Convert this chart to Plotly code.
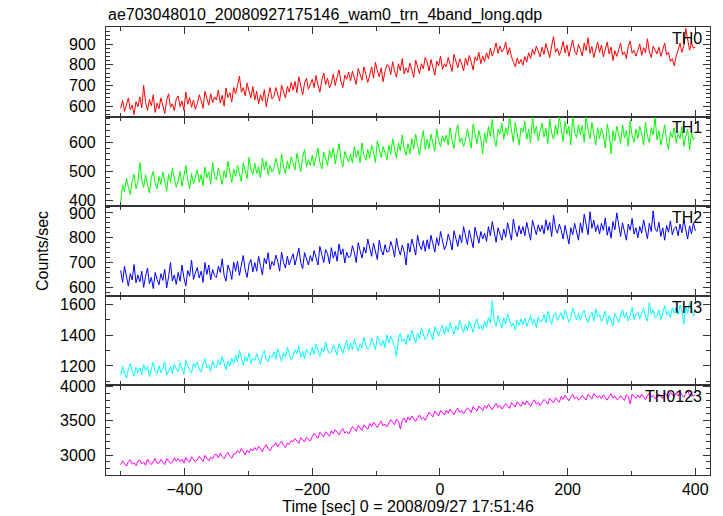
import plotly.graph_objects as go
from plotly.subplots import make_subplots

# Time grid: 3 s bins from -500 to 400 s
TIME_START = -500
TIME_BIN = 3

TH0 = [
    590, 628, 575, 612, 640, 583, 605, 560, 622, 598,
    645, 592, 700, 618, 580, 633, 602, 655, 570, 615,
    588, 640, 603, 565, 628, 660, 595, 612, 578, 635,
    650, 598, 625, 580, 668, 610, 642, 595, 630, 585,
    612, 655, 628, 590, 672, 640, 605, 660, 618, 645,
    630, 678, 615, 652, 600, 688, 642, 665, 620, 690,
    660, 700, 745, 668, 690, 650, 712, 672, 640, 695,
    630, 672, 612, 655, 625, 680, 598, 648, 690, 635,
    648, 690, 660, 625, 702, 672, 640, 695, 668, 715,
    678, 720, 665, 742, 690, 655, 712, 735, 682, 705,
    730, 690, 748, 702, 668, 725, 760, 705, 735, 688,
    712, 755, 700, 742, 775, 718, 690, 750, 730, 765,
    722, 768, 740, 705, 782, 752, 725, 790, 745, 715,
    748, 790, 735, 812, 770, 742, 785, 718, 768, 800,
    795, 752, 815, 768, 740, 805, 772, 830, 755, 785,
    762, 808, 775, 740, 822, 790, 758, 805, 780, 835,
    812, 770, 825, 788, 750, 818, 795, 842, 778, 805,
    790, 835, 802, 768, 850, 815, 785, 828, 808, 770,
    832, 798, 845, 812, 775, 838, 820, 860, 805, 842,
    815, 858, 828, 880, 842, 870, 905, 855, 890, 862,
    875, 910, 848, 882, 838, 815, 790, 832, 805, 825,
    798, 840, 812, 858, 830, 875, 848, 890, 862, 838,
    885, 850, 902, 868, 835, 892, 935, 860, 878, 845,
    870, 912, 858, 895, 840, 882, 920, 865, 848, 898,
    875, 842, 905, 868, 930, 855, 888, 835, 872, 910,
    860, 895, 838, 872, 910, 852, 885, 820, 868, 840,
    875, 905, 848, 862, 830, 888, 915, 855, 870, 842,
    868, 900, 845, 882, 858, 925, 862, 835, 890, 870,
    852, 885, 840, 872, 905, 848, 860, 815, 830, 795,
    842, 870, 905, 860, 890, 975, 918, 870, 905, 880,
    885,
]

TH1 = [
    395, 452, 430, 475, 448, 420, 468, 490, 440, 462,
    530, 470, 445, 488, 455, 425, 478, 500, 458, 440,
    482, 455, 498, 470, 432, 490, 462, 510, 475, 445,
    465, 500, 448, 485, 520, 470, 440, 492, 458, 478,
    505, 462, 488, 450, 515, 478, 498, 455, 530, 482,
    470, 512, 488, 455, 502, 478, 535, 490, 462, 508,
    482, 520, 495, 465, 530, 500, 475, 548, 505, 488,
    528, 492, 515, 478, 545, 505, 535, 488, 520, 498,
    510, 545, 520, 488, 558, 515, 492, 535, 508, 550,
    528, 505, 562, 530, 498, 548, 575, 515, 540, 520,
    555, 518, 545, 580, 530, 508, 565, 540, 520, 572,
    545, 580, 525, 560, 595, 540, 515, 568, 550, 532,
    560, 528, 585, 548, 572, 530, 598, 555, 538, 575,
    545, 590, 565, 530, 605, 572, 548, 585, 560, 540,
    590, 558, 612, 575, 545, 598, 570, 625, 580, 555,
    595, 560, 612, 578, 628, 590, 555, 605, 640, 575,
    610, 578, 628, 595, 570, 645, 605, 585, 622, 600,
    625, 590, 650, 608, 578, 632, 660, 600, 615, 585,
    605, 645, 618, 580, 662, 625, 595, 640, 612, 560,
    632, 598, 655, 620, 678, 610, 585, 645, 628, 665,
    610, 650, 625, 685, 640, 600, 668, 622, 590, 648,
    635, 672, 610, 645, 598, 688, 628, 655, 605, 640,
    665, 618, 648, 595, 680, 632, 610, 660, 625, 690,
    640, 602, 672, 628, 655, 590, 688, 635, 615, 660,
    625, 658, 600, 690, 642, 612, 668, 625, 590, 650,
    612, 648, 625, 580, 662, 632, 560, 640, 605, 655,
    628, 595, 660, 615, 640, 585, 675, 622, 600, 645,
    612, 655, 630, 590, 668, 620, 598, 650, 625, 685,
    608, 640, 590, 628, 660, 605, 575, 635, 615, 650,
    598, 630, 612, 655, 585, 620, 645, 575, 632, 610,
    615,
]

TH2 = [
    668, 620, 685, 640, 605, 655, 630, 692, 618, 650,
    622, 665, 600, 645, 678, 615, 640, 595, 660, 632,
    610, 655, 628, 672, 598, 642, 700, 625, 650, 612,
    660, 625, 690, 640, 605, 668, 645, 710, 632, 658,
    680, 638, 665, 620, 700, 652, 690, 630, 672, 648,
    640, 685, 660, 715, 648, 625, 690, 668, 632, 702,
    665, 705, 648, 690, 728, 670, 640, 695, 712, 662,
    700, 665, 725, 688, 650, 718, 695, 740, 672, 705,
    688, 730, 705, 665, 742, 700, 678, 725, 690, 715,
    735, 690, 722, 758, 700, 675, 740, 712, 690, 728,
    705, 748, 720, 690, 765, 728, 700, 752, 735, 695,
    760, 718, 745, 705, 775, 732, 755, 698, 742, 720,
    725, 768, 740, 700, 780, 748, 718, 762, 738, 795,
    762, 725, 778, 745, 712, 790, 750, 730, 772, 742,
    745, 785, 760, 722, 798, 755, 730, 770, 745, 690,
    778, 742, 795, 765, 730, 810, 770, 752, 788, 745,
    792, 755, 810, 775, 742, 800, 768, 825, 780, 752,
    770, 815, 788, 750, 828, 795, 765, 812, 780, 845,
    800, 772, 830, 795, 760, 842, 805, 778, 825, 795,
    818, 785, 845, 808, 865, 815, 782, 840, 812, 790,
    835, 802, 860, 822, 790, 875, 830, 805, 848, 815,
    845, 808, 862, 825, 790, 870, 835, 812, 852, 825,
    850, 815, 872, 830, 862, 805, 890, 838, 818, 855,
    830, 795, 850, 805, 775, 840, 812, 858, 822, 790,
    860, 820, 895, 845, 812, 905, 838, 870, 825, 852,
    815, 858, 830, 880, 810, 845, 798, 865, 832, 900,
    842, 805, 860, 822, 790, 855, 830, 878, 815, 840,
    800, 845, 818, 872, 830, 795, 858, 825, 908, 835,
    825, 862, 805, 840, 790, 850, 822, 868, 812, 838,
    845, 808, 855, 820, 872, 830, 795, 848, 815, 860,
    828,
]

TH3 = [
    1140, 1198, 1152, 1120, 1176, 1215, 1168, 1135, 1190, 1158,
    1185, 1142, 1210, 1168, 1195, 1130, 1178, 1225, 1160, 1148,
    1202, 1155, 1180, 1228, 1140, 1172, 1195, 1150, 1212, 1182,
    1165, 1220, 1190, 1148, 1235, 1200, 1172, 1155, 1215, 1192,
    1225, 1180, 1160, 1210, 1248, 1188, 1205, 1165, 1230, 1195,
    1190, 1240, 1205, 1262, 1220, 1175, 1232, 1198, 1250, 1215,
    1270, 1225, 1300, 1245, 1205, 1262, 1230, 1285, 1215, 1250,
    1235, 1280, 1245, 1210, 1275, 1300, 1240, 1225, 1268, 1255,
    1290, 1245, 1310, 1265, 1230, 1285, 1258, 1320, 1272, 1240,
    1265, 1305, 1280, 1330, 1255, 1295, 1245, 1310, 1285, 1270,
    1320, 1275, 1340, 1298, 1262, 1315, 1290, 1355, 1305, 1280,
    1290, 1335, 1305, 1270, 1345, 1318, 1282, 1330, 1365, 1300,
    1350, 1305, 1372, 1330, 1295, 1345, 1318, 1385, 1335, 1310,
    1325, 1378, 1340, 1305, 1392, 1355, 1330, 1365, 1318, 1402,
    1348, 1395, 1360, 1325, 1262, 1380, 1410, 1355, 1375, 1338,
    1405, 1362, 1428, 1390, 1350, 1412, 1375, 1445, 1398, 1368,
    1388, 1440, 1405, 1370, 1455, 1420, 1392, 1435, 1465, 1402,
    1455, 1418, 1480, 1440, 1405, 1462, 1430, 1495, 1448, 1415,
    1470, 1428, 1492, 1450, 1418, 1478, 1505, 1440, 1462, 1432,
    1490, 1448, 1515, 1475, 1622, 1498, 1455, 1525, 1480, 1445,
    1512, 1472, 1538, 1490, 1455, 1478, 1432, 1495, 1462, 1505,
    1468, 1508, 1455, 1492, 1525, 1470, 1500, 1448, 1518, 1485,
    1490, 1532, 1478, 1555, 1510, 1470, 1525, 1545, 1495, 1518,
    1545, 1500, 1565, 1528, 1482, 1510, 1575, 1535, 1498, 1540,
    1495, 1538, 1560, 1505, 1480, 1528, 1550, 1490, 1570, 1520,
    1532, 1488, 1515, 1555, 1470, 1525, 1498, 1460, 1540, 1505,
    1480, 1530, 1565, 1510, 1545, 1490, 1525, 1580, 1500, 1535,
    1550, 1505, 1540, 1575, 1515, 1490, 1612, 1535, 1560, 1510,
    1520, 1565, 1500, 1548, 1590, 1530, 1555, 1512, 1578, 1540,
    1575, 1530, 1595, 1555, 1472, 1585, 1540, 1610, 1565, 1525,
    1560,
]

TH0123 = [
    2860, 2918, 2875, 2838, 2905, 2930, 2868, 2890, 2845, 2912,
    2925, 2870, 2898, 2850, 2940, 2885, 2862, 2915, 2950, 2880,
    2885, 2935, 2902, 2860, 2948, 2920, 2878, 2895, 2960, 2910,
    2950, 2905, 2938, 2882, 2965, 2920, 2895, 2975, 2930, 2900,
    2928, 2980, 2945, 2905, 2995, 2960, 2918, 2970, 2940, 3005,
    3010, 2960, 3025, 2975, 2945, 3002, 3040, 2980, 2955, 3018,
    3020, 3065, 3030, 3095, 3045, 3005, 3070, 3035, 3090, 3060,
    3110, 3070, 3130, 3085, 3050, 3115, 3150, 3090, 3060, 3125,
    3135, 3180, 3120, 3165, 3200, 3140, 3110, 3175, 3155, 3210,
    3195, 3240, 3210, 3170, 3255, 3225, 3190, 3260, 3230, 3205,
    3270, 3315, 3280, 3245, 3330, 3295, 3265, 3340, 3300, 3275,
    3355, 3310, 3370, 3330, 3295, 3350, 3385, 3320, 3345, 3305,
    3370, 3415, 3385, 3345, 3430, 3395, 3360, 3440, 3400, 3375,
    3460, 3415, 3480, 3435, 3400, 3455, 3495, 3425, 3450, 3410,
    3470, 3515, 3480, 3440, 3525, 3495, 3380, 3505, 3540, 3475,
    3555, 3510, 3570, 3525, 3490, 3545, 3585, 3520, 3550, 3505,
    3580, 3625, 3590, 3555, 3640, 3605, 3570, 3650, 3610, 3585,
    3655, 3610, 3670, 3625, 3590, 3645, 3685, 3620, 3650, 3600,
    3645, 3690, 3660, 3620, 3705, 3675, 3640, 3715, 3680, 3650,
    3720, 3680, 3740, 3695, 3660, 3715, 3755, 3690, 3725, 3670,
    3705, 3750, 3720, 3680, 3765, 3735, 3700, 3775, 3740, 3710,
    3775, 3730, 3790, 3745, 3710, 3765, 3805, 3740, 3770, 3720,
    3765, 3810, 3780, 3740, 3825, 3795, 3760, 3835, 3800, 3770,
    3855, 3810, 3870, 3825, 3790, 3845, 3885, 3820, 3850, 3800,
    3825, 3870, 3840, 3800, 3885, 3855, 3820, 3895, 3860, 3830,
    3865, 3820, 3880, 3835, 3800, 3855, 3895, 3830, 3860, 3810,
    3820, 3865, 3835, 3795, 3880, 3850, 3745, 3890, 3855, 3825,
    3875, 3830, 3890, 3845, 3810, 3865, 3905, 3840, 3870, 3820,
    3845, 3890, 3860, 3820, 3905, 3875, 3840, 3915, 3880, 3850,
    3905, 3860, 3920, 3875, 3840, 3895, 3945, 3870, 3900, 3855,
    3890,
]

SERIES = [TH0, TH1, TH2, TH3, TH0123]
LABELS = ["TH0", "TH1", "TH2", "TH3", "TH0123"]
COLORS = ["#ff0000", "#00ff00", "#0000ff", "#00ffff", "#ff00ff"]
Y_RANGES = [[550, 982], [380, 688], [566, 927], [1074, 1654], [2709, 4015]]
Y_DTICK = [100, 100, 100, 200, 500]
Y_MINOR = [20, 20, 20, 100, 100]
X_RANGE = [-523, 423]

TITLE = "ae703048010_20080927175146_wam0_trn_4band_long.qdp"
X_TITLE = "Time [sec] 0 = 2008/09/27 17:51:46"
Y_TITLE = "Counts/sec"

FONT = "Liberation Sans, Arial, Helvetica, sans-serif"
AXIS_COLOR = "#333333"

time = [TIME_START + i * TIME_BIN for i in range(len(TH0))]

fig = make_subplots(rows=5, cols=1, shared_xaxes=True, vertical_spacing=0)

for r, (vals, col) in enumerate(zip(SERIES, COLORS), start=1):
    fig.add_trace(
        go.Scatter(x=time, y=vals, mode="lines",
                   line=dict(color=col, width=1), showlegend=False,
                   hoverinfo="skip"),
        row=r, col=1)
    fig.update_yaxes(
        range=Y_RANGES[r - 1], dtick=Y_DTICK[r - 1], tick0=0, automargin=False,
        showline=True, mirror="allticks", linecolor=AXIS_COLOR, linewidth=1.2,
        ticks="inside", ticklen=7, tickcolor=AXIS_COLOR,
        minor=dict(ticks="inside", ticklen=4, dtick=Y_MINOR[r - 1], tick0=0,
                   tickcolor=AXIS_COLOR),
        showgrid=False, zeroline=False, ticklabelstandoff=6,
        tickfont=dict(family=FONT, size=16, color="black"),
        row=r, col=1)
    fig.update_xaxes(
        range=X_RANGE, dtick=200, tick0=0, automargin=False,
        showline=True, mirror="allticks", linecolor=AXIS_COLOR, linewidth=1.2,
        ticks="inside", ticklen=7, tickcolor=AXIS_COLOR,
        minor=dict(ticks="inside", ticklen=4, dtick=100, tick0=0,
                   tickcolor=AXIS_COLOR),
        showgrid=False, zeroline=False,
        showticklabels=(r == 5),
        tickfont=dict(family=FONT, size=16, color="black"),
        row=r, col=1)
    xref = "x domain" if r == 1 else f"x{r} domain"
    yref = "y domain" if r == 1 else f"y{r} domain"
    fig.add_annotation(text=LABELS[r - 1], xref=xref, yref=yref,
                       x=0.99, y=0.99, xanchor="right", yanchor="top",
                       showarrow=False,
                       font=dict(family=FONT, size=16, color="black"))

fig.update_xaxes(title=dict(text=X_TITLE, font=dict(family=FONT, size=16, color="black"),
                            standoff=2), row=5, col=1)

fig.add_annotation(text=TITLE, xref="paper", yref="paper", x=0, y=1.0,
                   xanchor="left", yanchor="bottom", yshift=1, showarrow=False,
                   font=dict(family=FONT, size=16, color="black"))
fig.add_annotation(text=Y_TITLE, xref="paper", yref="paper", x=-0.106, y=0.5,
                   xanchor="center", yanchor="middle", textangle=-90, showarrow=False,
                   font=dict(family=FONT, size=16, color="black"))

fig.update_layout(
    width=723, height=516,
    margin=dict(l=106, r=13, t=27, b=41, autoexpand=False),
    plot_bgcolor="white", paper_bgcolor="white",
    font=dict(family=FONT, size=16, color="black"),
)

fig.write_html("out.html",
               config={"displayModeBar": False},
               post_script="document.body.style.margin='0px';"
                           "document.body.style.overflow='hidden';")
